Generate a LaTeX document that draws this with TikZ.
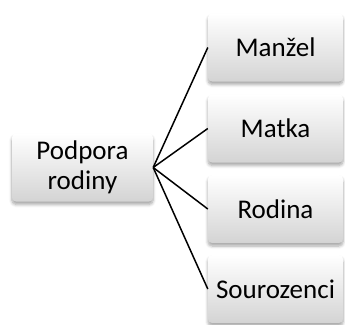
\documentclass[tikz,border=0pt]{standalone}
\usepackage{fontspec}
\setmainfont{Carlito}
\usetikzlibrary{shadows.blur}
\begin{document}
\begin{tikzpicture}[x=1pt,y=-1pt,
  boxnode/.style={rounded corners=4pt, top color=white, bottom color=black!17,
    minimum height=68pt, inner sep=0pt, align=center,
    font=\fontsize{27}{30}\selectfont,
    blur shadow={shadow xshift=0pt, shadow yshift=-3pt, shadow blur steps=6, shadow opacity=35, shadow blur radius=3pt}},
  link/.style={line width=1.5pt, black}]
  \useasboundingbox (0,0) rectangle (345,324);
  \node[boxnode, minimum width=141pt] (root) at (82.5,167.5) {Podpora\\rodiny};
  \node[boxnode, minimum width=135pt] (a) at (275.5,47.5) {Manžel};
  \node[boxnode, minimum width=135pt] (b) at (275.5,128.5) {Matka};
  \node[boxnode, minimum width=135pt] (c) at (275.5,209) {Rodina};
  \node[boxnode, minimum width=135pt] (d) at (275.5,289) {Sourozenci};
  \foreach \t in {a,b,c,d}
    \draw[link] (root.east) -- (\t.west);
\end{tikzpicture}
\end{document}
